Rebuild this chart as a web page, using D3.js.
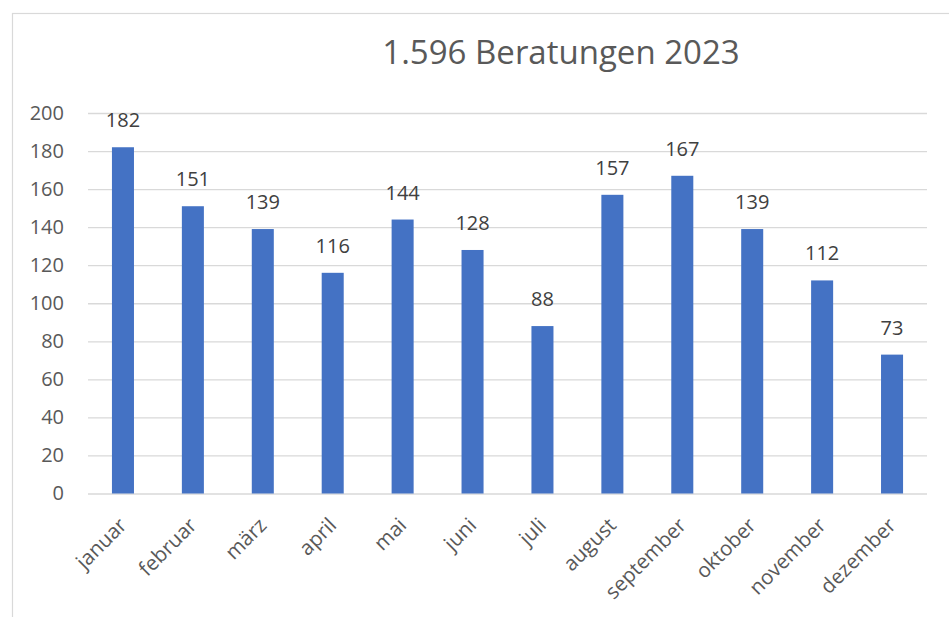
<!DOCTYPE html>
<html>
<head>
<meta charset="utf-8">
<script src="https://cdn.jsdelivr.net/npm/d3@7"></script>
<style>
  body { margin: 0; background: #fff; }
  svg { display: block; }
</style>
</head>
<body>
<div id="chart"></div>
<script>
// Beratungen pro Monat 2023
const months = ['januar', 'februar', 'märz', 'april', 'mai', 'juni', 'juli',
  'august', 'september', 'oktober', 'november', 'dezember'];
const counts = [182, 151, 139, 116, 144, 128, 88, 157, 167, 139, 112, 73];
const yTicks = [0, 20, 40, 60, 80, 100, 120, 140, 160, 180, 200];
const title = '1.596 Beratungen 2023';

const width = 949;
const height = 617;
const plot = { left: 88, right: 927, top: 113, bottom: 493.5 };
const textColor = '#595959';
const font = '"Open Sans", sans-serif';

const svg = d3.select('#chart')
  .append('svg')
  .attr('width', width)
  .attr('height', height);

// chart area border (runs off the picture right and bottom)
svg.append('rect')
  .attr('x', 12.5).attr('y', 13.5)
  .attr('width', 1100).attr('height', 700)
  .attr('fill', '#fff')
  .attr('stroke', '#d9d9d9')
  .attr('stroke-width', 1.2);

const x = d3.scaleBand().domain(months).range([plot.left, plot.right]).padding(0);
const y = d3.scaleLinear().domain([0, 200]).range([plot.bottom, plot.top]);
const barW = x.bandwidth() * 0.315;

// Title
svg.append('text')
  .attr('x', 561)
  .attr('y', 64)
  .attr('text-anchor', 'middle')
  .attr('fill', textColor)
  .attr('font-size', '33px')
  .attr('font-family', font)
  .text(title);

// Grid lines + y axis
const yAxis = svg.append('g')
  .attr('transform', `translate(${plot.left},0)`)
  .call(d3.axisLeft(y).tickValues(yTicks).tickSize(-(plot.right - plot.left)).tickPadding(24));

yAxis.select('.domain').remove();
yAxis.selectAll('line')
  .attr('stroke', '#d9d9d9')
  .attr('stroke-width', 1.3);
yAxis.selectAll('text')
  .attr('fill', textColor)
  .attr('font-size', '20px')
  .attr('font-family', font);

// Bars
svg.selectAll('.bar')
  .data(counts)
  .enter()
  .append('rect')
  .attr('x', (d, i) => x(months[i]) + x.bandwidth() / 2 - barW / 2)
  .attr('y', d => y(d))
  .attr('width', barW)
  .attr('height', d => y(0) - y(d))
  .attr('fill', '#4472c4');

// Value labels
svg.selectAll('.val')
  .data(counts)
  .enter()
  .append('text')
  .attr('x', (d, i) => x(months[i]) + x.bandwidth() / 2)
  .attr('y', d => y(d) - 20)
  .attr('text-anchor', 'middle')
  .attr('fill', '#404040')
  .attr('font-size', '20px')
  .attr('font-family', font)
  .text(d => d);

// Category labels, rotated
svg.selectAll('.cat')
  .data(months)
  .enter()
  .append('text')
  .attr('transform', d => `translate(${x(d) + x.bandwidth() / 2},${plot.bottom + 28}) rotate(-45)`)
  .attr('text-anchor', 'end')
  .attr('dy', '0.35em')
  .attr('fill', textColor)
  .attr('font-size', '20.5px')
  .attr('font-family', font)
  .text(d => d);
</script>
</body>
</html>
